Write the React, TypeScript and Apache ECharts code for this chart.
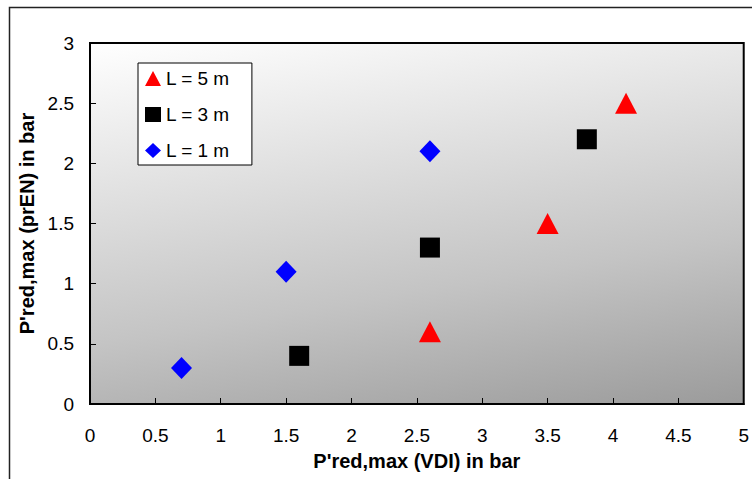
import React, { useEffect, useRef } from "react";
import * as echarts from "echarts";

const seriesNames = ["L = 5 m", "L = 3 m", "L = 1 m"];
const x5 = [2.6, 3.5, 4.1];
const y5 = [0.6, 1.5, 2.5];
const x3 = [1.6, 2.6, 3.8];
const y3 = [0.4, 1.3, 2.2];
const x1 = [0.7, 1.5, 2.6];
const y1 = [0.3, 1.1, 2.1];

const xAxisName = "P'red,max (VDI) in bar";
const yAxisName = "P'red,max (prEN) in bar";

const FONT = "'Liberation Sans', Arial, sans-serif";

const pairs = (xs: number[], ys: number[]) => xs.map((x, i) => [x, ys[i]]);

export default function App() {
  const ref = useRef<HTMLDivElement>(null);
  useEffect(() => {
    document.body.style.margin = "0";
    const chart = echarts.init(ref.current!, null, { renderer: "svg" });
    const grad = new echarts.graphic.LinearGradient(0, 0, 0.4638, 1.536, [
      { offset: 0, color: "#ffffff" },
      { offset: 0.5, color: "#c4c4c4" },
      { offset: 1, color: "#7a7a7a" },
    ]);
    chart.setOption({
      animation: false,
      backgroundColor: "#ffffff",
      textStyle: { fontFamily: FONT },
      grid: {
        left: 90,
        top: 43,
        right: 5,
        bottom: 75,
        show: true,
        backgroundColor: grad,
        borderColor: "#000",
        borderWidth: 2,
      },
      xAxis: {
        type: "value",
        min: 0,
        max: 5,
        interval: 0.5,
        name: xAxisName,
        nameLocation: "middle",
        nameGap: 47,
        nameTextStyle: { fontSize: 20, fontWeight: "bold", color: "#000", fontFamily: FONT },
        axisLine: { show: true, onZero: false, lineStyle: { color: "#000", width: 2 } },
        axisTick: { show: true, inside: true, length: 6, lineStyle: { color: "#000" } },
        axisLabel: { fontSize: 19, color: "#000", margin: 22, fontFamily: FONT },
        splitLine: { show: false },
      },
      yAxis: {
        type: "value",
        min: 0,
        max: 3,
        interval: 0.5,
        name: yAxisName,
        nameLocation: "middle",
        nameGap: 52,
        nameTextStyle: { fontSize: 20, fontWeight: "bold", color: "#000", fontFamily: FONT },
        axisLine: { show: true, onZero: false, lineStyle: { color: "#000", width: 2 } },
        axisTick: { show: true, inside: true, length: 6, lineStyle: { color: "#000" } },
        axisLabel: { fontSize: 19, color: "#000", margin: 16, fontFamily: FONT },
        splitLine: { show: false },
      },
      legend: {
        orient: "vertical",
        left: 138,
        top: 63,
        data: seriesNames,
        backgroundColor: "#ffffff",
        borderColor: "#000",
        borderWidth: 1,
        borderRadius: 0,
        padding: [6, 22, 5, 7],
        itemGap: 17,
        itemWidth: 16,
        itemHeight: 15,
        textStyle: { fontSize: 19, color: "#000", fontFamily: FONT },
      },
      graphic: [
        {
          type: "rect",
          shape: { x: 9.5, y: 7.5, width: 800, height: 600 },
          style: { fill: "none", stroke: "#222", lineWidth: 1.5 },
          silent: true,
          z: -10,
        },
      ],
      series: [
        {
          name: seriesNames[0],
          type: "scatter",
          symbol: "triangle",
          symbolSize: [22, 21],
          itemStyle: { color: "#ff0000", opacity: 1 },
          data: pairs(x5, y5),
        },
        {
          name: seriesNames[1],
          type: "scatter",
          symbol: "rect",
          symbolSize: 20,
          itemStyle: { color: "#000000", opacity: 1 },
          data: pairs(x3, y3),
        },
        {
          name: seriesNames[2],
          type: "scatter",
          symbol: "diamond",
          symbolSize: [21, 22],
          itemStyle: { color: "#0000ff", opacity: 1 },
          data: pairs(x1, y1),
        },
      ],
    });
    return () => chart.dispose();
  }, []);
  return (
    <div
      ref={ref}
      style={{ position: "fixed", left: 0, top: 0, width: 752, height: 479 }}
    />
  );
}
